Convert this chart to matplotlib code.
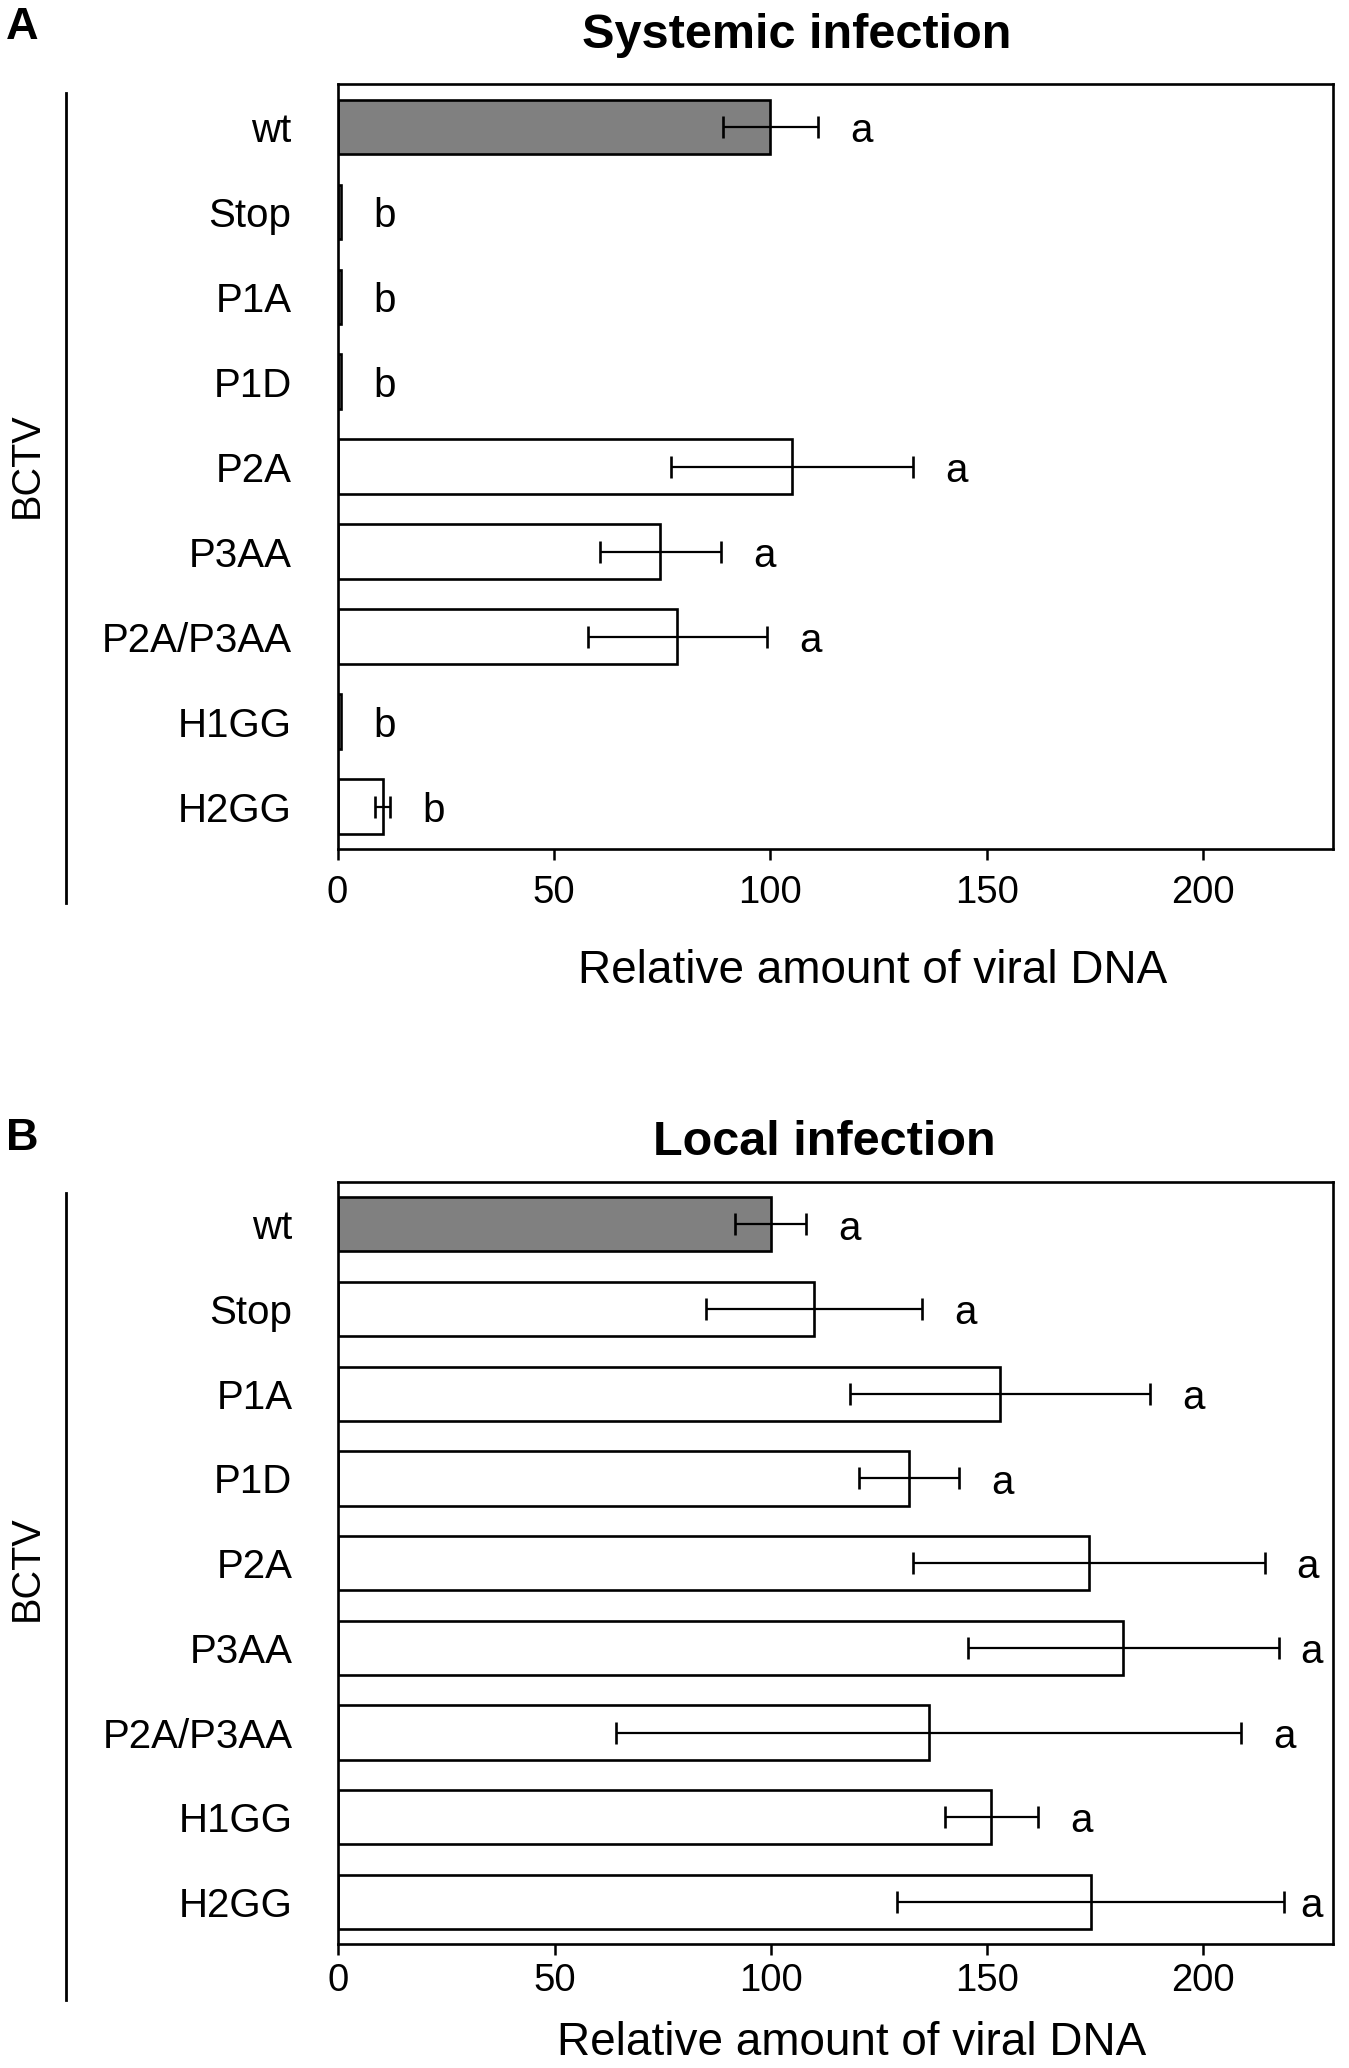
import matplotlib
matplotlib.use('Agg')
import matplotlib.pyplot as plt
from matplotlib.lines import Line2D
import numpy as np

plt.rcParams['font.family'] = ['Liberation Sans', 'DejaVu Sans']

# ---- data ----
categories = ['wt', 'Stop', 'P1A', 'P1D', 'P2A', 'P3AA', 'P2A/P3AA', 'H1GG', 'H2GG']
systemic_mean = [100, 0.8, 0.8, 0.8, 105, 74.6, 78.5, 0.8, 10.4]
systemic_err = [11, 0, 0, 0, 28, 14, 20.7, 0, 1.8]
systemic_letters = ['a', 'b', 'b', 'b', 'a', 'a', 'a', 'b', 'b']
local_mean = [100, 110, 153, 132, 173.5, 181.5, 136.5, 151, 174]
local_err = [8.2, 25, 34.7, 11.5, 40.7, 36, 72.2, 10.8, 44.7]
local_letters = ['a', 'a', 'a', 'a', 'a', 'a', 'a', 'a', 'a']
x_ticks = [0, 50, 100, 150, 200]
group_label = 'BCTV'
x_label = 'Relative amount of viral DNA'
titles = ['Systemic infection', 'Local infection']
panel_letters = ['A', 'B']

W, H = 1349, 2068
fig = plt.figure(figsize=(W / 100, H / 100), dpi=100)


def fx(px):
    return px / W


def fy(py):
    return 1 - py / H


def draw_panel(rect, means, errs, letters, title, letter, title_xy, letter_y,
               bracket, bctv_y, xlabel_xy, tickpad):
    ax = fig.add_axes(rect)
    y = np.arange(len(categories))
    colors = ['#808080'] + ['white'] * (len(categories) - 1)
    ax.barh(y, means, height=0.64, color=colors, edgecolor='black',
            linewidth=1.9, zorder=2)
    m = np.array(means)
    e = np.array(errs)
    mask = e > 0
    ax.errorbar(m[mask], y[mask], xerr=e[mask], fmt='none', ecolor='black',
                elinewidth=1.6, capsize=8, capthick=1.9, zorder=3)
    xmax = 230
    for yi, mi, ei, lt in zip(y, m, e, letters):
        xpos = min(mi + ei + 10, xmax - 5)
        ax.text(xpos, yi + 0.05, lt, ha='center', va='center', fontsize=29,
                zorder=4)
    ax.set_xlim(0, xmax)
    ax.set_ylim(len(categories) - 0.5, -0.5)
    ax.set_xticks(x_ticks)
    ax.set_yticks(y)
    ax.set_yticklabels(categories)
    ax.tick_params(axis='x', direction='out', length=7.7, width=1.8,
                   labelsize=27.5, pad=tickpad)
    ax.tick_params(axis='y', length=0, labelsize=29, pad=33)
    for s in ax.spines.values():
        s.set_linewidth(1.9)
    ax.set_xlabel(x_label, fontsize=33)
    ax.xaxis.label.set_va('baseline')
    ax.xaxis.set_label_coords(*xlabel_xy)
    fig.text(fx(title_xy[0]), fy(title_xy[1]), title, ha='center',
             va='baseline', fontsize=35, fontweight='bold')
    fig.text(fx(6), fy(letter_y), letter, ha='left', va='baseline',
             fontsize=32.5, fontweight='bold')
    fig.add_artist(Line2D([fx(66), fx(66)], [fy(bracket[0]), fy(bracket[1])],
                          transform=fig.transFigure, color='black', lw=2))
    fig.text(fx(27), fy(bctv_y), group_label, rotation=90, ha='center',
             va='center', fontsize=28.5)
    return ax


draw_panel([fx(337.5), fy(849), fx(1333) - fx(337.5), fy(84.3) - fy(849)],
           systemic_mean, systemic_err, systemic_letters, titles[0],
           panel_letters[0], (797, 47.7), 39.3, (93, 903), 465,
           (0.538, -0.1756), 11)
draw_panel([fx(338.3), fy(1944.3), fx(1333) - fx(338.3), fy(1182) - fy(1944.3)],
           local_mean, local_err, local_letters, titles[1],
           panel_letters[1], (824, 1155), 1150, (1193, 2000), 1568,
           (0.516, -0.1452), 6)

fig.savefig('out.png', dpi=100)
